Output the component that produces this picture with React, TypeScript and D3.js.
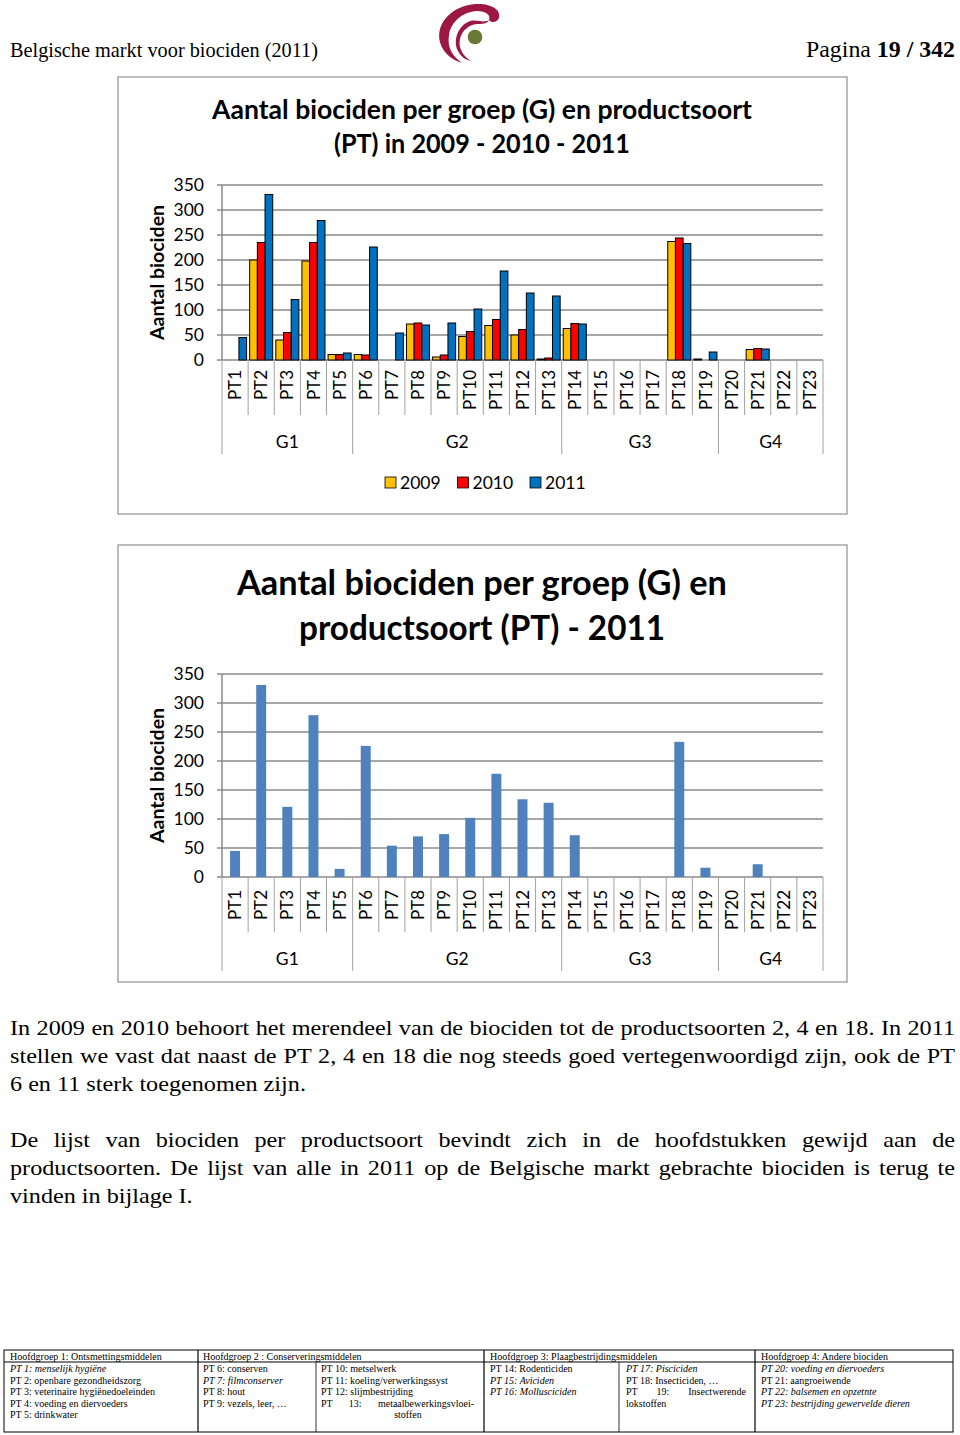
import * as d3 from 'd3';
import { useLayoutEffect, useRef } from 'react';

// product types and their main groups
const categories = [
  'PT1', 'PT2', 'PT3', 'PT4', 'PT5', 'PT6', 'PT7', 'PT8', 'PT9', 'PT10', 'PT11', 'PT12',
  'PT13', 'PT14', 'PT15', 'PT16', 'PT17', 'PT18', 'PT19', 'PT20', 'PT21', 'PT22', 'PT23',
];
const groupNames = ['G1', 'G2', 'G3', 'G4'];
const groupSizes = [5, 8, 6, 4];

const years = ['2009', '2010', '2011'];
const values2009 = [0, 200, 40, 198, 11, 11, 0, 72, 6, 47, 69, 50, 2, 63, 0, 0, 0, 237, 2, 0, 21, 0, 0];
const values2010 = [0, 235, 55, 235, 11, 10, 0, 74, 10, 57, 81, 61, 4, 73, 0, 0, 0, 244, 0, 0, 23, 0, 0];
const values2011 = [45, 331, 121, 279, 14, 226, 54, 70, 74, 102, 178, 134, 128, 72, 0, 0, 0, 233, 16, 0, 22, 0, 0];
const yearColors = ['#FFC000', '#FF0000', '#0070C0'];
const yTicks = [0, 50, 100, 150, 200, 250, 300, 350];

const chartFont = 'Lato, "Open Sans", sans-serif';
const serif = '"Liberation Serif", "DejaVu Serif", serif';

const tableHead = [
  'Hoofdgroep 1: Ontsmettingsmiddelen',
  'Hoofdgroep 2 : Conserveringsmiddelen',
  'Hoofdgroep 3: Plaagbestrijdingsmiddelen',
  'Hoofdgroep 4: Andere biociden',
];
// [text, italic, justified]
type Cell = [string, boolean, boolean?];
const tableCols: Cell[][] = [
  [
    ['PT 1: menselijk hygiëne', true],
    ['PT 2: openbare gezondheidszorg', false],
    ['PT 3: veterinaire hygiënedoeleinden', false],
    ['PT 4: voeding en diervoeders', false],
    ['PT 5: drinkwater', false],
  ],
  [
    ['PT 6: conserven', false],
    ['PT 7: filmconserver', true],
    ['PT 8: hout', false],
    ['PT 9: vezels, leer, …', false],
  ],
  [
    ['PT 10: metselwerk', false],
    ['PT 11: koeling/verwerkingssyst', false],
    ['PT 12: slijmbestrijding', false],
    ['PT 13: metaalbewerkingsvloei-', false, true],
  ],
  [
    ['PT 14: Rodenticiden', false],
    ['PT 15: Aviciden', true],
    ['PT 16: Mollusciciden', true],
  ],
  [
    ['PT 17: Pisciciden', true],
    ['PT 18: Insecticiden, …', false],
    ['PT 19: Insectwerende', false, true],
    ['lokstoffen', false],
  ],
  [
    ['PT 20: voeding en diervoeders', true],
    ['PT 21: aangroeiwende', false],
    ['PT 22: balsemen en opzetnte', true],
    ['PT 23: bestrijding gewervelde dieren', true],
  ],
];

const paragraphs: [string, boolean][][] = [
  [
    ['In 2009 en 2010 behoort het merendeel van de biociden tot de productsoorten 2, 4 en 18. In 2011', true],
    ['stellen we vast dat naast de PT 2, 4 en 18 die nog steeds goed vertegenwoordigd zijn, ook de PT', true],
    ['6 en 11 sterk toegenomen zijn.', false],
  ],
  [
    ['De lijst van biociden per productsoort bevindt zich in de hoofdstukken gewijd aan de', true],
    ['productsoorten. De lijst van alle in 2011 op de Belgische markt gebrachte biociden is terug te', true],
    ['vinden in bijlage I.', false],
  ],
];

// text that is stretched with word spacing to fill a given width
const Justified = (props: { x: number; y: number; width: number; size: number; text: string; italic?: boolean }) => {
  const ref = useRef<SVGTextElement>(null);
  useLayoutEffect(() => {
    const el = ref.current;
    if (!el) return;
    el.setAttribute('word-spacing', '0');
    const len = el.getComputedTextLength();
    const gaps = props.text.split(' ').length - 1;
    if (gaps > 0) el.setAttribute('word-spacing', String(Math.max(0, (props.width - len) / gaps)));
  }, [props.text, props.width]);
  return (
    <text ref={ref} x={props.x} y={props.y} fontSize={props.size} fontStyle={props.italic ? 'italic' : 'normal'}>
      {props.text}
    </text>
  );
};

interface Series {
  name: string;
  values: number[];
  color: string;
}

interface PanelProps {
  frameTop: number;
  frameBottom: number;
  plotTop: number;
  plotBottom: number;
  title: string[];
  titleY: number[];
  titleWidths: number[];
  titleSize: number;
  series: Series[];
  outlined: boolean;
  barOuter: number;
  labelGap: number;
  legendY?: number;
}

const BarPanel = (p: PanelProps) => {
  const left = 222;
  const right = 823;
  const x = d3.scaleBand<string>().domain(categories).range([left, right]).padding(0);
  const bw = x.bandwidth();
  const inner = d3
    .scaleBand<string>()
    .domain(p.series.map((s) => s.name))
    .range([0, bw])
    .paddingInner(0)
    .paddingOuter(p.barOuter);
  const y = d3.scaleLinear().domain([0, 350]).range([p.plotBottom, p.plotTop]);

  // group boundaries from the group sizes
  const bounds = [0, ...d3.cumsum(groupSizes)];
  const grid = '#8a8a8a';

  return (
    <g fontFamily={chartFont}>
      <rect
        x={118}
        y={p.frameTop}
        width={729}
        height={p.frameBottom - p.frameTop}
        fill="#fff"
        stroke="#a6a6a6"
        strokeWidth={1.5}
      />
      {p.title.map((t, i) => (
        <text
          key={t}
          x={482}
          y={p.titleY[i]}
          textAnchor="middle"
          fontWeight="bold"
          fontSize={p.titleSize}
          textLength={p.titleWidths[i]}
          lengthAdjust="spacingAndGlyphs"
        >
          {t}
        </text>
      ))}
      <text
        transform={`translate(157,${(p.plotTop + p.plotBottom) / 2}) rotate(-90)`}
        textAnchor="middle"
        dy="0.35em"
        fontWeight="bold"
        fontSize={19.5}
      >
        Aantal biociden
      </text>
      {yTicks.map((t) => (
        <g key={t}>
          <line x1={left - 5} x2={right} y1={y(t)} y2={y(t)} stroke={grid} strokeWidth={1.5} />
          <text x={204} y={y(t)} dy="0.36em" textAnchor="end" fontSize={17.5}>
            {t}
          </text>
        </g>
      ))}
      <line x1={left} x2={left} y1={p.plotTop} y2={p.plotBottom} stroke={grid} strokeWidth={1.5} />
      {/* category separators */}
      {categories.map((c, i) =>
        bounds.includes(i) ? null : (
          <line key={c} x1={x(c)} x2={x(c)} y1={p.plotBottom} y2={p.plotBottom + 55} stroke="#a0a0a0" strokeWidth={1} />
        ),
      )}
      {bounds.map((b) => {
        const bx = b < categories.length ? (x(categories[b]) as number) : right;
        return <line key={b} x1={bx} x2={bx} y1={p.plotBottom} y2={p.plotBottom + 94} stroke="#a0a0a0" strokeWidth={1} />;
      })}
      {groupNames.map((g, i) => {
        const x0 = x(categories[bounds[i]]) as number;
        const x1 = bounds[i + 1] < categories.length ? (x(categories[bounds[i + 1]]) as number) : right;
        return (
          <text key={g} x={(x0 + x1) / 2} y={p.plotBottom + 82} dy="0.35em" textAnchor="middle" fontSize={17.5}>
            {g}
          </text>
        );
      })}
      {categories.map((c) => (
        <text
          key={c}
          transform={`translate(${(x(c) as number) + bw / 2},${p.plotBottom + p.labelGap}) rotate(-90)`}
          textAnchor="end"
          dy="0.36em"
          fontSize={17}
        >
          {c}
        </text>
      ))}
      {p.series.map((s) =>
        s.values.map((v, i) =>
          v > 0 ? (
            <rect
              key={s.name + i}
              x={(x(categories[i]) as number) + (inner(s.name) as number)}
              y={y(v)}
              width={inner.bandwidth()}
              height={p.plotBottom - y(v)}
              fill={s.color}
              stroke={p.outlined ? '#000' : 'none'}
              strokeWidth={1}
            />
          ) : null,
        ),
      )}
      {p.legendY !== undefined &&
        p.series.map((s, i) => (
          <g key={s.name} transform={`translate(${385 + i * 72.5},${p.legendY})`}>
            <rect x={0} y={-6} width={11} height={11} fill={s.color} stroke="#000" strokeWidth={0.8} />
            <text x={15} y={0} dy="0.35em" fontSize={17.5}>
              {s.name}
            </text>
          </g>
        ))}
    </g>
  );
};

const Logo = () => (
  <g>
    <path
      d="M462 63 C446 58 436 44 440 29 C445 13 462 3 481 4 C494 5 501 11 499 18 C497 23 491 23 489 20 C491 15 486 11 477 11 C462 12 451 22 449 35 C447 47 452 56 462 63 Z"
      fill="#9c1741"
    />
    <path
      d="M489 20 C483 24 476 18 468 22 C457 27 453 42 458 51 C461 57 466 60 471 61 C463 56 458 48 460 39 C462 30 470 24 478 24 C484 24 488 23 489 20 Z"
      fill="#9c1741"
    />
    <circle cx={475} cy={37} r={7.3} fill="#687a35" />
  </g>
);

export default function App() {
  const colX = [4, 198, 316, 484, 619, 755, 953];
  const headX = [10, 203, 490, 761];
  const bodyX = [10, 203, 321, 490, 626, 761];
  const bodyRight = [192, 310, 474, 613, 746, 948];
  const rowY = [1372, 1383.5, 1395, 1406.5, 1418];

  const series2011: Series[] = [{ name: '2011', values: values2011, color: '#4F81BD' }];
  const seriesAll: Series[] = years.map((yr, i) => ({
    name: yr,
    values: [values2009, values2010, values2011][i],
    color: yearColors[i],
  }));

  // the body text in the scan is a little wider than the font
  const stretch = 1.1;

  return (
    <svg
      width={960}
      height={1435}
      style={{ position: 'absolute', left: 0, top: 0, background: '#fff' }}
      fontFamily={serif}
    >
      <rect width={960} height={1435} fill="#fff" />
      <text x={10} y={57} fontSize={21} textLength={308} lengthAdjust="spacingAndGlyphs">
        Belgische markt voor biociden (2011)
      </text>
      <text x={806} y={57} fontSize={23} textLength={149} lengthAdjust="spacingAndGlyphs">
        Pagina <tspan fontWeight="bold">19 / 342</tspan>
      </text>
      <Logo />

      <BarPanel
        frameTop={77}
        frameBottom={514}
        plotTop={185}
        plotBottom={360}
        title={['Aantal biociden per groep (G) en productsoort', '(PT) in 2009 - 2010 - 2011']}
        titleY={[119, 153]}
        titleWidths={[540, 296]}
        titleSize={26}
        series={seriesAll}
        outlined
        barOuter={0.2}
        labelGap={10}
        legendY={483}
      />
      <BarPanel
        frameTop={545}
        frameBottom={982}
        plotTop={674}
        plotBottom={877}
        title={['Aantal biociden per groep (G) en', 'productsoort (PT) - 2011']}
        titleY={[595, 640]}
        titleWidths={[490, 366]}
        titleSize={34}
        series={series2011}
        outlined={false}
        barOuter={0.81}
        labelGap={13}
      />

      <g transform={`translate(10,0) scale(${stretch},1)`}>
        {paragraphs.map((para, pi) =>
          para.map(([t, just], li) => {
            const yy = 1035 + pi * 112 + li * 28;
            return just ? (
              <Justified key={t} x={0} y={yy} width={945 / stretch} size={22} text={t} />
            ) : (
              <text key={t} x={0} y={yy} fontSize={22}>
                {t}
              </text>
            );
          }),
        )}
      </g>

      {/* footer table */}
      <g fontSize={10}>
        <rect x={colX[0]} y={1350} width={colX[6] - colX[0]} height={82} fill="none" stroke="#000" strokeWidth={1} />
        <line x1={colX[0]} x2={colX[6]} y1={1362} y2={1362} stroke="#000" strokeWidth={1.2} />
        {[1, 3, 5].map((c) => (
          <line key={c} x1={colX[c]} x2={colX[c]} y1={1350} y2={1432} stroke="#000" strokeWidth={1.2} />
        ))}
        {[2, 4].map((c) => (
          <line key={c} x1={colX[c]} x2={colX[c]} y1={1362} y2={1432} stroke="#000" strokeWidth={0.8} />
        ))}
        {tableHead.map((h, i) => (
          <text key={h} x={headX[i]} y={1359.5}>
            {h}
          </text>
        ))}
        {tableCols.map((col, ci) =>
          col.map(([t, it, just], ri) =>
            just ? (
              <Justified
                key={t}
                x={bodyX[ci]}
                y={rowY[ri]}
                width={bodyRight[ci] - bodyX[ci]}
                size={10}
                text={t}
                italic={it}
              />
            ) : (
              <text key={t} x={bodyX[ci]} y={rowY[ri]} fontStyle={it ? 'italic' : 'normal'}>
                {t}
              </text>
            ),
          ),
        )}
        <text x={408} y={rowY[4]} textAnchor="middle">
          stoffen
        </text>
      </g>
    </svg>
  );
}
